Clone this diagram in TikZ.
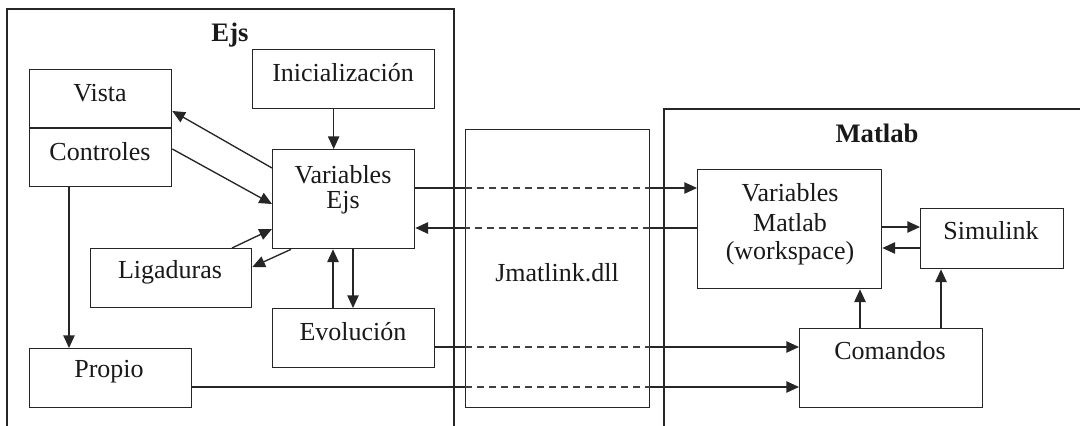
\documentclass[tikz,border=0pt]{standalone}
\usepackage{fontspec}
\setmainfont{Liberation Serif}
\usetikzlibrary{arrows.meta,calc}
\newdimen\pxu \pxu=0.75pt
\begin{document}
\begin{tikzpicture}[x=0.75pt,y=-0.75pt,
  line width=1pt,
  every node/.style={font=\fontsize{19.5}{22}\selectfont, text=black!90},
  box/.style={draw=black!85, line width=1pt, anchor=north west, inner sep=0pt},
  txt/.style={inner sep=0pt},
  frame/.style={draw=black!85, line width=1pt},
  conn/.style={draw=black!85, line width=1pt},
  arr/.style={conn, -{Triangle[length=9.5pt,width=8.5pt]}},
  dsh/.style={draw=black!75, line width=1.5pt, dash pattern=on 5.5pt off 3.5pt}]
\useasboundingbox (0,0) rectangle (1080,425);
\fill[white] (0,0) rectangle (1080,425);
% outer frames
\draw[frame] (7,430) -- (7,9) -- (454,9) -- (454,430);
\draw[frame] (664,430) -- (664,109) -- (1085,109);
\node[txt,font=\fontsize{20}{22}\selectfont\bfseries] (lejs) at (230,35) {Ejs};
\node[txt,font=\fontsize{20}{22}\selectfont\bfseries] (lmat) at (877,133) {Matlab};
% boxes
\node[box, minimum width=182\pxu, minimum height=59\pxu] (Ini) at (252,49) {};
\node[txt] (tIni) at (343,73) {Inicialización};
\node[box, minimum width=142\pxu, minimum height=117\pxu] (VC) at (29,69) {};
\draw[conn] (VC.west |- 0,128) -- (VC.east |- 0,128);
\node[txt] (tVista) at (100,93) {Vista};
\node[txt] (tCtrl) at (100,152) {Controles};
\node[box, minimum width=142\pxu, minimum height=99\pxu] (VE) at (272,149) {};
\node[txt] (tVE1) at (343,175) {Variables};
\node[txt] (tVE2) at (343,203) {Ejs};
\node[box, minimum width=161\pxu, minimum height=59\pxu] (Lig) at (90,248) {};
\node[txt] (tLig) at (170,272) {Ligaduras};
\node[box, minimum width=162\pxu, minimum height=59\pxu] (Evo) at (272,308) {};
\node[txt] (tEvo) at (353,332) {Evolución};
\node[box, minimum width=162\pxu, minimum height=59\pxu] (Prop) at (29,348) {};
\node[txt] (tProp) at (109,372) {Propio};
\node[box, minimum width=184\pxu, minimum height=278\pxu] (Jm) at (465,129) {};
\node[txt] (tJm) at (557,273) {Jmatlink.dll};
\node[box, minimum width=184\pxu, minimum height=119\pxu] (VM) at (697,169) {};
\node[txt] (tVM1) at (790,193) {Variables};
\node[txt] (tVM2) at (790,223) {Matlab};
\node[txt] (tVM3) at (790,253) {(workspace)};
\node[box, minimum width=143\pxu, minimum height=60\pxu] (Sim) at (920,208) {};
\node[txt] (tSim) at (991,231) {Simulink};
\node[box, minimum width=183\pxu, minimum height=79\pxu] (Com) at (799,328) {};
\node[txt] (tCom) at (890,351) {Comandos};
% arrows inside Ejs
\draw[arr] ($(Ini.south)+(-10,0)$) -- ($(VE.north)+(-10,0)$);
\draw[arr] ($(VE.north west)+(0,19)$) -- ($(VC.north east)+(0,42)$);
\draw[arr] ($(VC.north east)+(0,80)$) -- ($(VE.north west)+(0,55)$);
\draw[arr] ($(Lig.north west)+(142,0)$) -- ($(VE.north west)+(0,80)$);
\draw[arr] ($(VE.south west)+(19,0)$) -- ($(Lig.north east)+(0,19)$);
\draw[arr] ($(Evo.north west)+(61,0)$) -- ($(VE.south west)+(61,0)$);
\draw[arr] ($(VE.south west)+(81,0)$) -- ($(Evo.north west)+(81,0)$);
\draw[arr] ($(VC.south west)+(40,0)$) -- ($(Prop.north west)+(40,0)$);
% links through Jmatlink
\coordinate (s1) at ($(VE.north east)+(0,39)$);
\draw[conn] (s1) -- (Jm.west |- s1);
\draw[dsh] (Jm.west |- s1) -- (Jm.east |- s1);
\draw[arr] (Jm.east |- s1) -- (VM.west |- s1);
\coordinate (s2) at ($(VM.north west)+(0,59)$);
\draw[conn] (s2) -- (Jm.east |- s2);
\draw[dsh] (Jm.east |- s2) -- (Jm.west |- s2);
\draw[arr] (Jm.west |- s2) -- (VE.east |- s2);
\coordinate (s3) at ($(Evo.north east)+(0,39)$);
\draw[conn] (s3) -- (Jm.west |- s3);
\draw[dsh] (Jm.west |- s3) -- (Jm.east |- s3);
\draw[arr] (Jm.east |- s3) -- (Com.west |- s3);
\coordinate (s4) at ($(Prop.north east)+(0,39)$);
\draw[conn] (s4) -- (Jm.west |- s4);
\draw[dsh] (Jm.west |- s4) -- (Jm.east |- s4);
\draw[arr] (Jm.east |- s4) -- (Com.west |- s4);
% arrows inside Matlab
\draw[arr] ($(VM.north east)+(0,58)$) -- ($(Sim.north west)+(0,19)$);
\draw[arr] ($(Sim.north west)+(0,40)$) -- ($(VM.north east)+(0,79)$);
\draw[arr] ($(Com.north west)+(61,0)$) -- ($(VM.south west)+(163,0)$);
\draw[arr] ($(Com.north west)+(142,0)$) -- ($(Sim.south west)+(21,0)$);
\end{tikzpicture}
\end{document}
